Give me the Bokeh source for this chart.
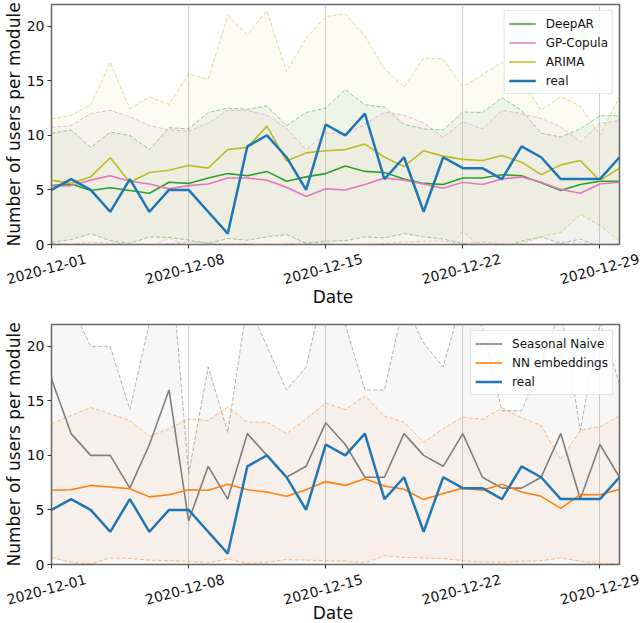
import calendar
import datetime as dt
from math import pi

from bokeh.plotting import figure
from bokeh.layouts import column
from bokeh.models import Range1d, FixedTicker
from bokeh.core.properties import value
from bokeh.embed import file_html
from bokeh.resources import INLINE

# ---------------- data ----------------
dates = [dt.datetime(2020, 12, 1) + dt.timedelta(days=i) for i in range(30)]
tick_labels = ["2020-12-01", "2020-12-08", "2020-12-15", "2020-12-22", "2020-12-29"]
y_ticks = [0, 5, 10, 15, 20]

real = [5, 6, 5, 3, 6, 3, 5, 5, 3, 1, 9, 10, 8, 5, 11, 10, 12, 6, 8, 3,
        8, 7, 7, 6, 9, 8, 6, 6, 6, 8]

deepar = [5.4, 5.55, 4.95, 5.2, 4.95, 4.7, 5.7, 5.6, 6.1, 6.5, 6.3, 6.7, 5.8, 6.2, 6.5,
          7.2, 6.7, 6.6, 6.0, 5.6, 5.5, 6.1, 6.1, 6.4, 6.3, 5.65, 4.95, 5.5, 5.8, 5.8]
deepar_hi = [10.2, 10.5, 8.9, 10.3, 10.0, 8.7, 10.7, 10.6, 12.1, 12.5, 12.4, 12.7, 10.9, 12.1, 12.5,
             14.2, 12.8, 12.6, 11.0, 10.6, 10.5, 12.15, 12.1, 13.45, 12.3, 10.2, 9.85, 10.6, 11.8, 11.8]
deepar_lo = [0.2, 0.45, 1.0, 0.35, 0.1, 0.7, 0.65, 0.4, 0.1, 0.55, 0.4, 0.7, 0.9, 0.1, 0.3,
             0.35, 0.7, 0.6, 1.0, 0.7, 0.5, 0.1, -0.3, -0.3, 0.3, 0.7, 0.1, 0.5, -0.2, 0.0]

gpcop = [5.35, 5.4, 5.9, 6.3, 5.8, 5.55, 5.1, 5.4, 5.55, 6.1, 6.1, 5.9, 5.25, 4.4, 5.1,
         5.0, 5.5, 6.1, 5.9, 5.55, 5.15, 5.7, 5.5, 6.0, 6.2, 5.7, 5.05, 4.7, 5.55, 5.7]
gpcop_hi = [10.75, 10.9, 12.0, 12.3, 11.7, 10.9, 10.5, 10.4, 11.1, 12.3, 12.3, 11.85, 10.65, 8.7, 10.2,
            10.15, 11.0, 12.15, 11.85, 11.15, 9.85, 11.25, 10.6, 12.3, 12.0, 11.55, 10.8, 9.4, 11.1, 11.35]
gpcop_lo = [0.1, 0.05, 0.2, 0.15, 0.0, -0.2, 0.1, 0.2, 0.15, 0.05, 0.1, -0.1, 0.05, 0.2, 0.1,
            -0.1, 0.0, 0.1, 0.2, 0.3, 0.3, 0.1, 0.2, 0.1, -0.2, 0.0, 0.1, 0.2, 0.0, 0.1]

arima = [5.9, 5.6, 6.2, 7.95, 5.7, 6.6, 6.8, 7.25, 7.0, 8.7, 8.9, 10.85, 7.65, 8.4, 8.6,
         8.7, 9.2, 8.0, 7.15, 8.6, 8.1, 7.8, 7.7, 8.15, 7.55, 6.4, 7.3, 7.7, 5.85, 7.0]
arima_hi = [11.5, 11.85, 12.8, 16.7, 12.45, 13.55, 12.85, 15.65, 15.15, 21.0, 19.25, 21.45, 15.85, 18.9, 20.9,
            21.15, 19.1, 16.15, 14.45, 17.1, 17.0, 14.45, 15.55, 16.7, 15.1, 12.3, 13.55, 12.7, 10.0, 13.55]
arima_lo = [-1.2, -0.8, -0.6, -1.5, -0.6, -0.3, 0.6, -0.3, -0.5, -1.5, -1.0, 0.1, -1.3, -0.8, -1.0,
            -1.2, -0.9, -0.6, -0.4, -0.6, -1.0, 1.2, -0.4, -0.3, 0.1, 0.7, 1.1, 2.75, 1.75, 0.35]

snaive = [17, 12, 10, 10, 7, 11, 16, 4, 9, 6, 12, 10, 8, 9, 13,
          11, 8, 8, 12, 10, 9, 12, 8, 7, 7, 8, 12, 6, 11, 8]
snaive_hi = [26, 23.8, 20, 20, 14.2, 22.2, 30, 8.3, 18.1, 12.1, 24, 20, 16, 18.1, 26,
             22, 16, 16, 24, 20.3, 18.1, 24.6, 21.8, 14.1, 14.1, 18.4, 23.5, 12.3, 22.3, 16.6]
snaive_lo = [-1.0] * 30

nnemb = [6.8, 6.85, 7.25, 7.1, 6.95, 6.2, 6.4, 6.85, 6.8, 7.35, 6.85, 6.65, 6.25, 6.85, 7.6,
         7.25, 7.85, 7.2, 6.9, 5.95, 6.5, 7.0, 6.8, 7.35, 6.65, 6.25, 5.15, 6.4, 6.4, 6.9]
nnemb_hi = [12.9, 13.65, 14.4, 13.8, 13.2, 11.75, 12.45, 13.35, 13.2, 14.45, 13.05, 13.05, 12.0, 13.35, 14.8,
            14.2, 15.45, 13.6, 13.05, 11.2, 12.45, 13.5, 13.3, 14.35, 13.45, 12.75, 9.6, 12.3, 12.65, 13.6]
nnemb_lo = [0.65, 0.2, 0.05, 0.6, 0.55, 0.4, 0.35, 0.3, 0.15, 0.5, 0.1, 0.2, 0.45, 0.4, 0.35,
            0.3, 0.15, 0.8, 0.65, 0.6, 0.55, 0.35, 0.2, 0.2, 0.3, 0.35, 0.6, 0.3, 0.1, 0.1]

# ---------------- styling / layout ----------------
FONT = "DejaVu Sans"
C_GREEN, C_PINK, C_OLIVE = "#2ca02c", "#e377c2", "#bcbd22"
C_BLUE, C_GRAY, C_ORANGE = "#1f77b4", "#7f7f7f", "#ff7f0e"
TXT = "#111111"

W = 640          # figure width
BL, BR = 46, 21  # left / right borders of the plot frames
FW = W - BL - BR
YMAX = 22


def to_ms(d):
    return calendar.timegm(d.timetuple()) * 1000.0


tick_ms = [to_ms(dt.datetime.strptime(s, "%Y-%m-%d")) for s in tick_labels]
x0_ms, x1_ms = to_ms(dates[0]), to_ms(dates[-1])
ms_per_px = (x1_ms - x0_ms) / FW


def no_align(fig):
    if "frame_align" in fig.properties():
        fig.frame_align = False


def make_plot(top, frame_h, bottom):
    p = figure(width=W, height=top + frame_h + bottom, x_axis_type="datetime", title=None,
               output_backend="svg", toolbar_location=None,
               x_range=Range1d(dates[0], dates[-1]), y_range=Range1d(0, YMAX),
               min_border_left=BL, min_border_right=BR, min_border_top=top,
               min_border_bottom=bottom)
    no_align(p)
    p.outline_line_color = "#666666"
    p.outline_line_width = 1.5
    # x axis: tick marks only (the rotated labels live in the strip below)
    xa = p.xaxis[0]
    xa.ticker = FixedTicker(ticks=tick_ms)
    xa.axis_line_color = None
    xa.minor_tick_line_color = None
    xa.major_tick_out = 4
    xa.major_tick_in = 0
    xa.major_tick_line_color = "#333333"
    xa.major_label_standoff = 0
    xa.major_label_text_font_size = "1px"
    xa.major_label_text_color = None
    p.xgrid.ticker = FixedTicker(ticks=tick_ms)
    p.xgrid.grid_line_color = "#d0d0d0"
    p.xgrid.grid_line_width = 1
    p.ygrid.grid_line_color = None
    ya = p.yaxis[0]
    ya.ticker = FixedTicker(ticks=y_ticks)
    ya.axis_line_color = None
    ya.minor_tick_line_color = None
    ya.major_tick_out = 4
    ya.major_tick_in = 0
    ya.major_tick_line_color = "#333333"
    ya.major_label_text_font = FONT
    ya.major_label_text_font_size = "14px"
    ya.major_label_text_color = TXT
    ya.major_label_standoff = 3
    ya.axis_label = "Number of users per module"
    ya.axis_label_text_font = FONT
    ya.axis_label_text_font_size = "17px"
    ya.axis_label_text_font_style = "normal"
    ya.axis_label_text_color = TXT
    ya.axis_label_standoff = 0
    return p


def make_xlabels(h, label_y, date_y):
    """Strip under a plot holding the rotated date tick labels and 'Date'."""
    q = figure(width=W, height=h, title=None, output_backend="svg", toolbar_location=None,
               x_range=Range1d(x0_ms - BL * ms_per_px, x1_ms + BR * ms_per_px),
               y_range=Range1d(0, h), min_border=0,
               x_axis_location=None, y_axis_location=None)
    no_align(q)
    q.outline_line_color = None
    q.grid.visible = False
    q.text(x=tick_ms, y=[label_y] * len(tick_ms), text=tick_labels, angle=15 * pi / 180,
           text_align="center", text_baseline="middle", text_font=value(FONT),
           text_font_size=value("14px"), text_color=TXT)
    q.text(x=[(x0_ms + x1_ms) / 2], y=[date_y], text=["Date"], text_align="center",
           text_baseline="middle", text_font=value(FONT),
           text_font_size=value("17px"), text_color=TXT)
    return q


def band(p, lo, hi, color, line_alpha=0.5):
    p.varea(x=dates, y1=lo, y2=hi, fill_color=color, fill_alpha=0.06)
    p.line(dates, hi, line_color=color, line_alpha=line_alpha, line_width=1, line_dash="4 2")
    p.line(dates, lo, line_color=color, line_alpha=line_alpha, line_width=1, line_dash="4 2")


def style_legend(p):
    lg = p.legend[0]
    lg.location = "top_right"
    lg.margin = 6
    lg.padding = 4
    lg.spacing = 2
    lg.glyph_width = 27
    lg.glyph_height = 17
    lg.label_height = 17
    lg.label_standoff = 10
    lg.label_text_font = FONT
    lg.label_text_font_size = "12px"
    lg.label_text_color = TXT
    lg.border_line_color = "#cccccc"
    lg.border_line_width = 1
    lg.background_fill_alpha = 0.8


# ---------------- top plot ----------------
p1 = make_plot(4, 240, 8)          # canvas 0..252, frame 4..244
band(p1, deepar_lo, deepar_hi, C_GREEN)
band(p1, gpcop_lo, gpcop_hi, C_PINK)
band(p1, arima_lo, arima_hi, C_OLIVE)
p1.line(dates, deepar, line_color=C_GREEN, line_width=1.6, legend_label="DeepAR")
p1.line(dates, gpcop, line_color=C_PINK, line_width=1.6, legend_label="GP-Copula")
p1.line(dates, arima, line_color=C_OLIVE, line_width=1.6, legend_label="ARIMA")
p1.line(dates, real, line_color=C_BLUE, line_width=2.5, legend_label="real")
style_legend(p1)
x1 = make_xlabels(71, 54.5, 26.5)  # canvas 252..323

# ---------------- bottom plot ----------------
p2 = make_plot(1, 240, 8)          # canvas 323..572, frame 324..564
band(p2, snaive_lo, snaive_hi, C_GRAY, line_alpha=0.6)
band(p2, nnemb_lo, nnemb_hi, C_ORANGE)
p2.line(dates, snaive, line_color=C_GRAY, line_width=1.6, legend_label="Seasonal Naive")
p2.line(dates, nnemb, line_color=C_ORANGE, line_width=1.6, legend_label="NN embeddings")
p2.line(dates, real, line_color=C_BLUE, line_width=2.5, legend_label="real")
style_legend(p2)
x2 = make_xlabels(51, 34, 11)     # canvas 572..623

layout = column(p1, x1, p2, x2, spacing=0)
open("out.html", "w").write(file_html(layout, INLINE))
